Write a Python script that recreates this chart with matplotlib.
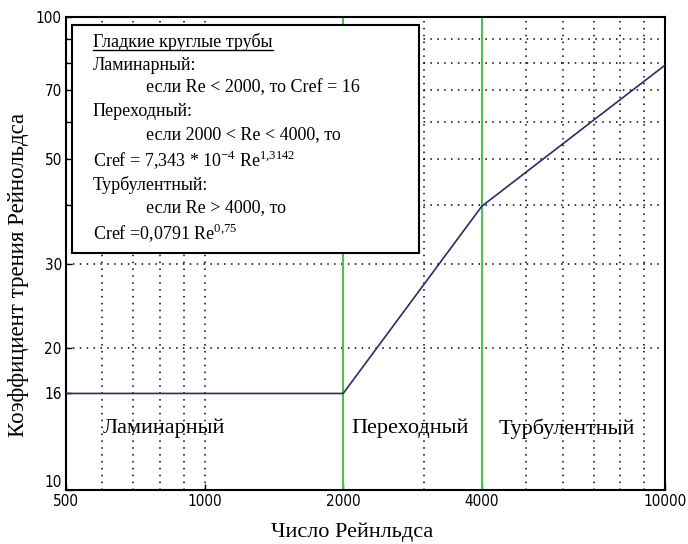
import matplotlib
matplotlib.use('Agg')
import matplotlib.pyplot as plt
from matplotlib.lines import Line2D
from matplotlib.patches import Rectangle

plt.rcParams['mathtext.fontset'] = 'custom'
plt.rcParams['mathtext.rm'] = 'Liberation Serif'

# Data: friction coefficient curve at the regime break points
re_points = [500, 2000, 4000, 10000]
cref_points = [16, 16, 39.8, 79.1]

# Regime borders (green lines)
borders = [2000, 4000]

# Ticks and grid
x_ticks = [500, 1000, 2000, 4000, 10000]
y_ticks = [10, 16, 20, 30, 50, 70, 100]
x_grid = [600, 700, 800, 900, 1000, 3000, 5000, 6000, 7000, 8000, 9000]
y_grid = [20, 30, 40, 50, 60, 70, 80, 90]

regimes = ['Ламинарный', 'Переходный', 'Турбулентный']
regime_x = [600, 2080, 4350]

box_lines = [
    ('Гладкие круглые трубы', 0),
    ('Ламинарный:', 0),
    ('если Re < 2000, то Cref = 16', 1),
    ('Переходный:', 0),
    ('если 2000 < Re < 4000, то', 1),
    ('Cref = 7,343 * 10$^{\\mathrm{-4}}$ Re$^{1{,}3142}$', 0),
    ('Турбулентный:', 0),
    ('если Re > 4000, то', 1),
    ('Cref =0,0791 Re$^{0{,}75}$', 0),
]

serif = 'Liberation Serif'
narrow = ['DejaVu Sans']

fig = plt.figure(figsize=(6.88, 5.44), dpi=100)
ax = fig.add_axes([66 / 688, 1 - 490 / 544, 599 / 688, 473 / 544])
ax.set_xscale('log')
ax.set_yscale('log')
ax.set_xlim(500, 10000)
ax.set_ylim(10, 100)

for xg in x_grid:
    ax.axvline(xg, color='black', lw=1.1, linestyle=(0, (1, 3.5)), zorder=1)
for yg in y_grid:
    ax.axhline(yg, color='black', lw=1.1, linestyle=(0, (1, 3.5)), zorder=1)

for b in borders:
    ax.axvline(b, color='#4cc24c', lw=1.5, zorder=2)

ax.plot(re_points, cref_points, color='#2a2a6e', lw=1.2, zorder=3)

for name, xr in zip(regimes, regime_x):
    ax.text(xr, 13.5, name, fontsize=16, family=serif, va='center', ha='left', zorder=3)

ax.set_xticks(x_ticks)
ax.set_xticklabels([str(v) for v in x_ticks], family=narrow, fontstretch='condensed', fontsize=11)
ax.set_yticks(y_ticks)
ax.set_yticklabels([str(v) for v in y_ticks], family=narrow, fontstretch='condensed', fontsize=11)
ax.get_yticklabels()[0].set_va('bottom')
ax.xaxis.set_minor_locator(matplotlib.ticker.NullLocator())
ax.set_yticks(y_grid, minor=True)
ax.yaxis.set_minor_formatter(matplotlib.ticker.NullFormatter())
ax.tick_params(which='both', direction='in', length=4, width=1, pad=3)
for s in ax.spines.values():
    s.set_linewidth(1.5)

ax.set_xlabel('Число Рейнльдса', family=serif, fontsize=16, va='center')
ax.xaxis.set_label_coords(0.477, -0.089)
ax.set_ylabel('Коэффициент трения Рейнольдса', family=serif, fontsize=16.5, va='center')
ax.yaxis.set_label_coords(-0.08, 0.455)

# Text box with the formulas
ax.add_patch(Rectangle((0.01, 0.501), 0.579, 0.482, transform=ax.transAxes,
                       facecolor='white', edgecolor='black', lw=1.5, zorder=5))
line_y = [42, 65, 88, 112, 135, 160, 185, 208, 233]
texts = []
for (txt, indent), py in zip(box_lines, line_y):
    px = 146 if indent else 93
    t = fig.text(px / 688, 1 - py / 544, txt, family=serif, fontsize=13, va='center', ha='left', zorder=6)
    texts.append(t)

# underline the title
fig.canvas.draw()
bb = texts[0].get_window_extent()
fig.add_artist(Line2D([bb.x0 / 688, bb.x1 / 688], [(bb.y0 + 1) / 544, (bb.y0 + 1) / 544],
                      color='black', lw=1, transform=fig.transFigure))

fig.savefig('out.png', dpi=100)
